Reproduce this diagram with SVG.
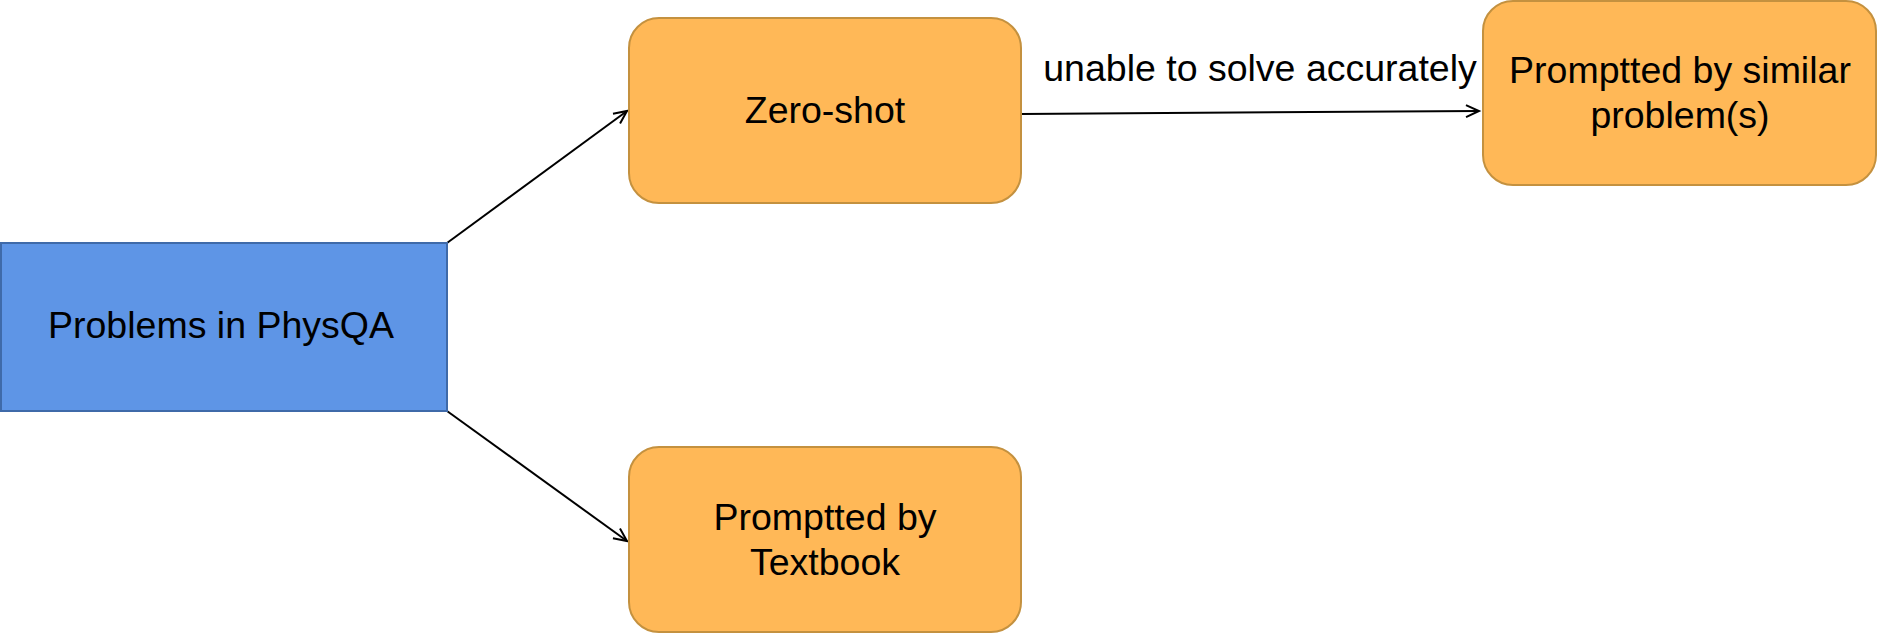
<svg xmlns="http://www.w3.org/2000/svg" width="1877" height="634" viewBox="0 0 1877 634">
<defs>
<style>
.t{font-family:"Liberation Sans",Arial,sans-serif;font-size:37.5px;fill:#000;text-anchor:middle}
.o{fill:#FFB857;stroke:#C4913F;stroke-width:2}
.c{stroke:#000;stroke-width:2;fill:none}
</style>
<marker id="a" markerWidth="20" markerHeight="20" refX="14" refY="7" orient="auto" markerUnits="userSpaceOnUse" viewBox="0 0 20 14">
<path d="M1,1 L14,7 L1,13" fill="none" stroke="#000" stroke-width="2"/>
</marker>
</defs>
<rect width="1877" height="634" fill="#fff"/>
<g id="connectors">
<line class="c" x1="447" y1="243" x2="627" y2="111" marker-end="url(#a)"/>
<line class="c" x1="447" y1="411" x2="627" y2="541" marker-end="url(#a)"/>
<line class="c" x1="1021" y1="114" x2="1479" y2="111" marker-end="url(#a)"/>
<text class="t" x="1260" y="81">unable to solve accurately</text>
</g>
<g id="physqa">
<rect x="1" y="243" width="446" height="168" fill="#5E95E6" stroke="#3F6AA9" stroke-width="2"/>
<text class="t" x="221" y="338">Problems in PhysQA</text>
</g>
<g id="zeroshot">
<rect class="o" x="629" y="18" width="392" height="185" rx="30"/>
<text class="t" x="825" y="123">Zero-shot</text>
</g>
<g id="textbook">
<rect class="o" x="629" y="447" width="392" height="185" rx="30"/>
<text class="t" x="825" y="530">Promptted by</text>
<text class="t" x="825" y="575">Textbook</text>
</g>
<g id="similar">
<rect class="o" x="1483" y="1" width="393" height="184" rx="30"/>
<text class="t" x="1680" y="83">Promptted by similar</text>
<text class="t" x="1680" y="128">problem(s)</text>
</g>
</svg>
